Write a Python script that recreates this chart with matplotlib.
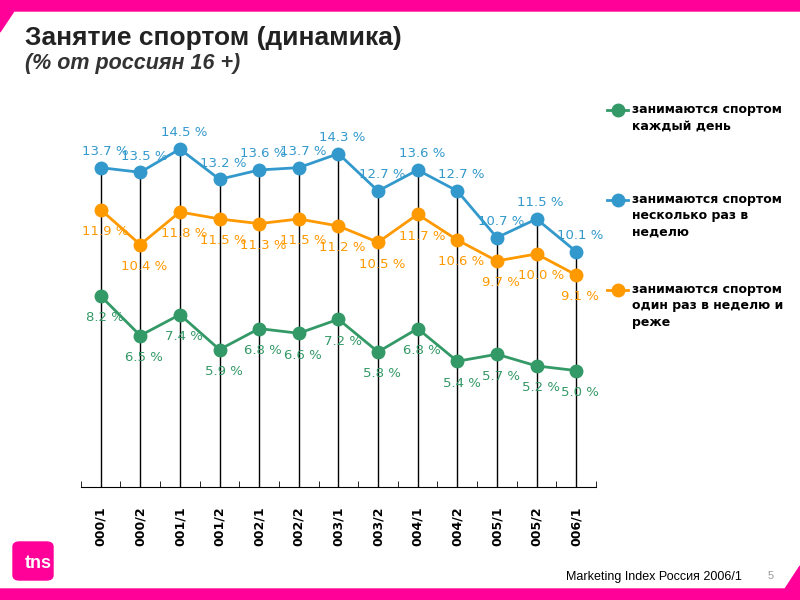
import numpy as np
import matplotlib
matplotlib.use('Agg')
import matplotlib.pyplot as plt
from matplotlib.lines import Line2D
from matplotlib.patches import Polygon, FancyBboxPatch

# Waves of the survey (labels as shown, leading "2" cut off)
periods = ['000/1', '000/2', '001/1', '001/2', '002/1', '002/2', '003/1',
           '003/2', '004/1', '004/2', '005/1', '005/2', '006/1']

daily = [8.2, 6.5, 7.4, 5.9, 6.8, 6.6, 7.2, 5.8, 6.8, 5.4, 5.7, 5.2, 5.0]
several_week = [13.7, 13.5, 14.5, 13.2, 13.6, 13.7, 14.3, 12.7, 13.6, 12.7, 10.7, 11.5, 10.1]
once_week = [11.9, 10.4, 11.8, 11.5, 11.3, 11.5, 11.2, 10.5, 11.7, 10.6, 9.7, 10.0, 9.1]

legend_labels = ['занимаются спортом\nкаждый день',
                 'занимаются спортом\nнесколько раз в\nнеделю',
                 'занимаются спортом\nодин раз в неделю и\nреже']

GREEN = '#339966'
BLUE = '#3399cc'
ORANGE = '#ff9900'
PINK = '#ff0099'

fig = plt.figure(figsize=(8, 6), dpi=100)
ax = fig.add_axes([0.101, 0.188, 0.644, 0.622])

x = np.arange(len(periods))
series = [(daily, GREEN, 22), (several_week, BLUE, -16), (once_week, ORANGE, 22)]

# drop lines from top point to the axis
tops = np.max([daily, several_week, once_week], axis=0)
ax.vlines(x, 0, tops, color='black', lw=1, zorder=1)

for vals, col, dy in series:
    ax.plot(x, vals, color=col, lw=2, marker='o', ms=9, mec=col, zorder=3)
    for xi, v in zip(x, vals):
        ax.annotate(f'{v:.1f} %', (xi, v), xytext=(3, -dy * 0.72),
                    textcoords='offset points', ha='center', va='center',
                    color=col, fontsize=9.5, zorder=4)

ax.set_xlim(-0.5, len(periods) - 0.5)
ax.set_ylim(0, 16)
for s in ['top', 'left', 'right']:
    ax.spines[s].set_visible(False)
ax.spines['bottom'].set_color('black')
ax.set_yticks([])
ax.set_xticks(x)
ax.set_xticklabels(periods, rotation=90, fontsize=9, fontweight='bold')
ax.tick_params(axis='x', which='major', length=0, pad=14)
ax.set_xticks(np.arange(-0.5, len(periods)), minor=True)
ax.tick_params(axis='x', which='minor', direction='in', length=4, color='black')

# legend drawn by hand so the marker sits at the first text line
leg_y = [1 - 110 / 600, 1 - 200 / 600, 1 - 290 / 600]
for (vals, col, _), lab, ly in zip(series, legend_labels, leg_y):
    fig.lines.append(Line2D([607 / 800, 628 / 800], [ly, ly], color=col, lw=2,
                            transform=fig.transFigure))
    fig.lines.append(Line2D([617.5 / 800], [ly], color=col, marker='o', ms=9,
                            transform=fig.transFigure))
    fig.text(632 / 800, ly + 7 / 600, lab, fontsize=9, fontweight='bold',
             va='top', ha='left', linespacing=1.35)

# titles
fig.text(25 / 800, 1 - 38 / 600, 'Занятие спортом (динамика)', fontsize=19,
         fontweight='bold', family='Liberation Sans', color='#222222', va='center')
fig.text(25 / 800, 1 - 63 / 600, '(% от россиян 16 +)', fontsize=15.5,
         fontweight='bold', style='italic', family='Liberation Sans',
         color='#333333', va='center')

# pink frame pieces
fig.patches.append(Polygon([[0, 1], [1, 1], [1, 1 - 11 / 600], [14 / 800, 1 - 11 / 600],
                            [0, 1 - 32 / 600]], closed=True, color=PINK,
                           transform=fig.transFigure))
fig.patches.append(Polygon([[0, 0], [1, 0], [1, 1 - 566 / 600], [785 / 800, 1 - 589 / 600],
                            [0, 1 - 589 / 600]], closed=True, color=PINK,
                           transform=fig.transFigure))

# logo
fig.patches.append(FancyBboxPatch((13 / 800, 1 - 580 / 600), 40 / 800, 38 / 600,
                                  boxstyle='round,pad=0,rounding_size=0.008',
                                  color=PINK, transform=fig.transFigure))
fig.text(38 / 800, 1 - 564 / 600, 'tns', color='white', fontsize=13,
         fontweight='bold', family='Liberation Sans', ha='center', va='center')

# footer
fig.text(566 / 800, 1 - 577 / 600, 'Marketing Index Россия 2006/1', fontsize=9,
         family='Liberation Sans', va='center')
fig.text(768 / 800, 1 - 576 / 600, '5', fontsize=8, family='Liberation Sans',
         color='#999999', va='center')

fig.savefig('out.png', dpi=100)
